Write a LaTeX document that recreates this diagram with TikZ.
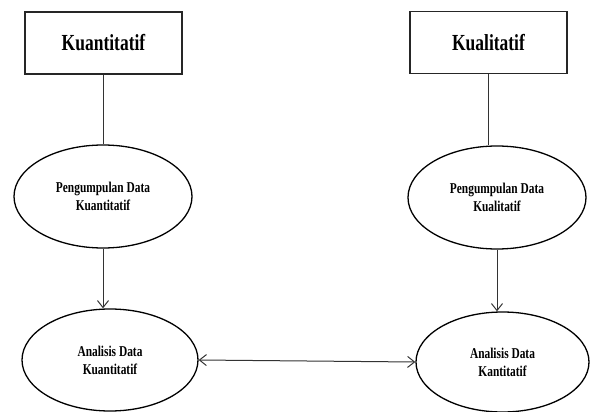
\documentclass[tikz,border=0pt]{standalone}
\usepackage{fontspec}
\usepackage{graphicx}
\setmainfont{Liberation Serif}
\newcommand{\cond}[1]{\scalebox{0.76}[1]{#1}}
\usetikzlibrary{shapes.geometric,arrows.meta}
\begin{document}
\begin{tikzpicture}[x=1pt,y=-1pt,
  titlebox/.style={draw=black!85,line width=1.4pt,minimum width=157pt,minimum height=62pt,inner sep=0pt,
    font=\fontsize{23}{25}\selectfont\bfseries},
  ellbox/.style={ellipse,draw=black,line width=1.3pt,minimum width=178pt,minimum height=103pt,inner sep=0pt,
    align=center,font=\fontsize{15}{18}\selectfont\bfseries},
  link/.style={draw=black!80,line width=1pt},
  arr/.style={link,-{Straight Barb[length=7pt,width=11pt,line width=1pt]}},
  darr/.style={link,{Straight Barb[length=7pt,width=11pt,line width=1pt]}-{Straight Barb[length=7pt,width=11pt,line width=1pt]}}]
\useasboundingbox[fill=white] (0,0) rectangle (590,412);
\node[titlebox] (b1) at (103.5,43) {\cond{Kuantitatif}};
\node[titlebox] (b2) at (488.5,42.5) {\cond{Kualitatif}};
\node[ellbox] (e1) at (103,196.5) {\cond{Pengumpulan Data}\\\cond{Kuantitatif}};
\node[ellbox] (e3) at (497,197.5) {\cond{Pengumpulan Data}\\\cond{Kualitatif}};
\node[ellbox,minimum width=176pt,minimum height=102pt] (e2) at (110,360) {\cond{Analisis Data}\\\cond{Kuantitatif}};
\node[ellbox,minimum width=173pt,minimum height=100pt] (e4) at (502.5,362) {\cond{Analisis Data}\\\cond{Kantitatif}};
\draw[link] (b1.south) -- (b1.south |- e1.north);
\draw[link] (b2.south) -- (b2.south |- e3.north);
\draw[arr] (e1.south) -- (e1.south |- e2.north);
\draw[arr] (e3.south) -- (e3.south |- e4.north);
\draw[darr] (e2.east) -- (e4.west);
\end{tikzpicture}
\end{document}
